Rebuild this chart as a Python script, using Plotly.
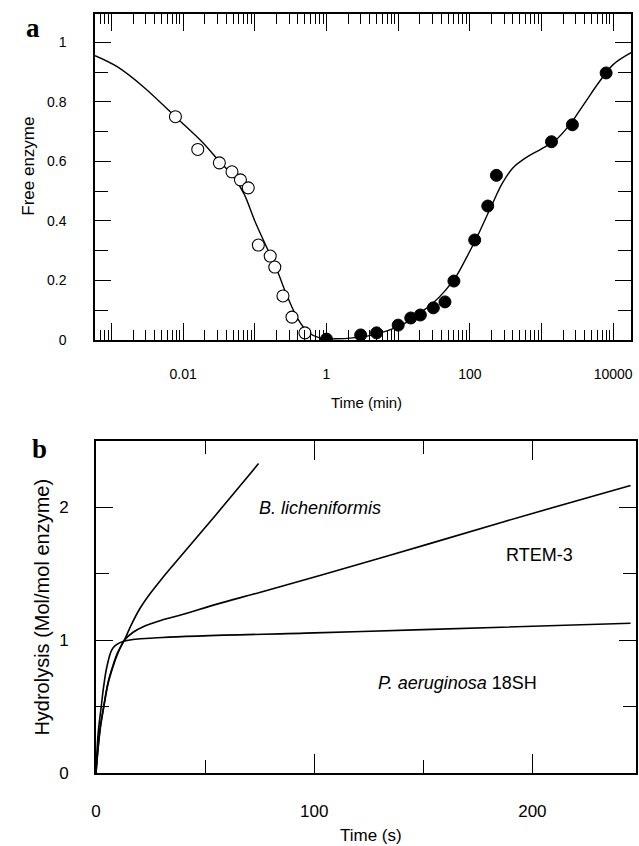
import plotly.graph_objects as go

# panel a: free enzyme vs time (min), log time axis
open_t = [0.0078, 0.016, 0.032, 0.048, 0.063, 0.081, 0.112, 0.164, 0.19, 0.247, 0.33, 0.50]
open_y = [0.75, 0.64, 0.595, 0.565, 0.538, 0.511, 0.319, 0.282, 0.245, 0.148, 0.077, 0.024]
filled_t = [1.0, 3.0, 5.0, 10, 15, 20.4, 31, 45, 60, 117, 178, 235, 1380, 2700, 7980]
filled_y = [0.003, 0.017, 0.024, 0.05, 0.074, 0.084, 0.108, 0.128, 0.198, 0.336, 0.45, 0.553, 0.666, 0.723, 0.897]
fit_t = [0.00059, 0.0012, 0.0028, 0.0078, 0.019, 0.032, 0.05, 0.071, 0.1, 0.141, 0.2, 0.28, 0.4,
         0.56, 0.8, 1.3, 2.5, 5.0, 10, 14.8, 20, 31, 45, 63, 89, 126, 200, 282, 398, 631,
         1000, 1585, 2512, 3981, 6310, 10000, 17800]
fit_y = [0.955, 0.918, 0.85, 0.75, 0.662, 0.60, 0.55, 0.49, 0.40, 0.32, 0.24, 0.15, 0.07,
         0.025, 0.007, 0.004, 0.008, 0.02, 0.045, 0.067, 0.09, 0.125, 0.165, 0.21, 0.275, 0.346, 0.45, 0.525,
         0.578, 0.615, 0.642, 0.672, 0.725, 0.795, 0.865, 0.925, 0.965]
a_tickvals = [0.001, 0.01, 0.1, 1, 10, 100, 1000, 10000]
a_ticktext = ["", "0.01", "", "1", "", "100", "", "10000"]

# panel b: hydrolysis vs time (s)
blich_t = [0, 1, 2, 3.5, 5.5, 7.6, 10, 13, 16, 20, 25, 30, 40, 55, 74.5]
blich_y = [0, 0.2, 0.35, 0.5, 0.68, 0.8, 0.91, 1.0, 1.11, 1.235, 1.355, 1.46, 1.655, 1.945, 2.33]
rtem_t = [0, 1, 2, 3.5, 5.5, 7.6, 10, 13, 17, 21.4, 30, 40, 55, 75, 103, 154.5, 200, 245]
rtem_y = [0, 0.19, 0.34, 0.49, 0.67, 0.79, 0.9, 1.0, 1.06, 1.10, 1.15, 1.195, 1.27, 1.36, 1.49, 1.735, 1.955, 2.165]
paer_t = [0, 1, 2.4, 3.5, 5, 7.7, 12.3, 30.5, 100, 150, 245]
paer_y = [0, 0.3, 0.5, 0.65, 0.8, 0.94, 0.99, 1.02, 1.055, 1.08, 1.128]

W, H = 639, 846
YS = 1.012  # page renders a touch shorter than layout height, stretch positions back


def px_x(p):
    return p / W


def px_y(p):
    return 1 - p * YS / H


font_family = "Liberation Sans, Arial, sans-serif"

fig = go.Figure()

fig.add_trace(go.Scatter(x=fit_t, y=fit_y, mode='lines', line=dict(color='black', width=1.4, shape='spline'),
                         xaxis='x', yaxis='y', showlegend=False))
fig.add_trace(go.Scatter(x=open_t, y=open_y, mode='markers',
                         marker=dict(symbol='circle', size=12, color='white', line=dict(color='black', width=1.1)),
                         xaxis='x', yaxis='y', showlegend=False))
fig.add_trace(go.Scatter(x=filled_t, y=filled_y, mode='markers',
                         marker=dict(symbol='circle', size=12, color='black', line=dict(color='black', width=1)),
                         xaxis='x', yaxis='y', showlegend=False))

for t, y in [(blich_t, blich_y), (rtem_t, rtem_y), (paer_t, paer_y)]:
    fig.add_trace(go.Scatter(x=t, y=y, mode='lines', line=dict(color='black', width=1.6, shape='spline'),
                             xaxis='x2', yaxis='y2', showlegend=False))

axis_common = dict(showline=True, linecolor='black', linewidth=1.5, mirror='ticks', showgrid=False,
                   zeroline=False, ticks='inside', tickcolor='black', tickwidth=1.3)

fig.update_layout(
    width=W, height=H,
    margin=dict(l=0, r=0, t=0, b=0),
    paper_bgcolor='white', plot_bgcolor='white',
    font=dict(family=font_family, color='black'),
    xaxis=dict(axis_common, type='log', range=[-3.23, 4.25], domain=[px_x(91), px_x(633)],
               anchor='y', tickmode='array', tickvals=a_tickvals, ticktext=a_ticktext, ticklen=17,
               ticklabelstandoff=20, tickfont=dict(size=14),
               minor=dict(ticks='inside', ticklen=10, dtick='D1', tickcolor='black', tickwidth=1, showgrid=False)),
    yaxis=dict(axis_common, range=[0, 1.095], domain=[px_y(340), px_y(14)], anchor='x',
               tickvals=[0, 0.2, 0.4, 0.6, 0.8, 1.0], ticktext=["0", "0.2", "0.4", "0.6", "0.8", "1"],
               ticklen=16, ticklabelstandoff=24, tickfont=dict(size=14),
               minor=dict(ticks='inside', ticklen=13, dtick=0.1, tickcolor='black', tickwidth=1.3, showgrid=False)),
    xaxis2=dict(axis_common, range=[0, 247.5], domain=[px_x(92), px_x(638)], anchor='y2',
                tickvals=[0, 100, 200], ticklen=19, ticklabelstandoff=22, tickfont=dict(size=17),
                minor=dict(ticks='inside', ticklen=13, dtick=50, tickcolor='black', tickwidth=1.3, showgrid=False)),
    yaxis2=dict(axis_common, range=[0, 2.5], domain=[px_y(773), px_y(441)], anchor='x2',
                tickvals=[0, 1, 2], ticklen=17, ticklabelstandoff=22, tickfont=dict(size=17),
                minor=dict(ticks='inside', ticklen=13, dtick=0.5, tickcolor='black', tickwidth=1.3, showgrid=False)),
)

annotations = [
    dict(text="<b>a</b>", x=px_x(28), y=px_y(28), font=dict(family="Liberation Serif, Times New Roman, serif", size=27)),
    dict(text="<b>b</b>", x=px_x(35), y=px_y(449), font=dict(family="Liberation Serif, Times New Roman, serif", size=27)),
    dict(text="Free enzyme", x=px_x(23), y=px_y(166), textangle=-90, font=dict(size=17)),
    dict(text="Time (min)", x=px_x(365), y=px_y(402), font=dict(size=15)),
    dict(text="Hydrolysis (Mol/mol enzyme)", x=px_x(37), y=px_y(607), textangle=-90, font=dict(size=20)),
    dict(text="Time (s)", x=px_x(370), y=px_y(835), font=dict(size=17)),
    dict(text="<i>B. licheniformis</i>", x=px_x(318), y=px_y(508), font=dict(size=18)),
    dict(text="RTEM-3", x=px_x(540), y=px_y(555), font=dict(size=18)),
    dict(text="<i>P. aeruginosa</i> 18SH", x=px_x(458), y=px_y(683), font=dict(size=18)),
]
for a in annotations:
    a.update(xref='paper', yref='paper', showarrow=False, xanchor='center', yanchor='middle')
fig.update_layout(annotations=annotations)

# drop the default page margin so the figure sits at the window origin
fig.write_html("out.html", config={'displayModeBar': False},
               post_script="document.body.style.margin='0';document.body.style.overflow='hidden';")
